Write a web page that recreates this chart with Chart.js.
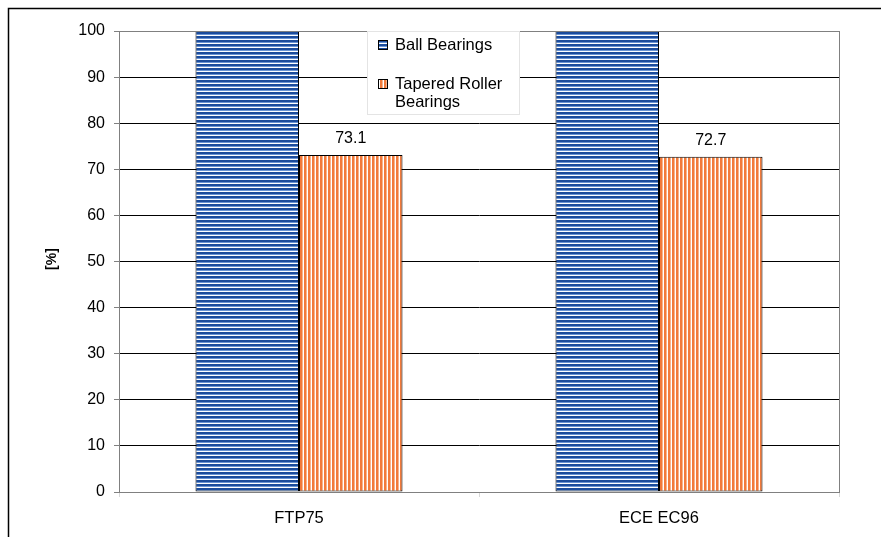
<!DOCTYPE html>
<html>
<head>
<meta charset="utf-8">
<script src="https://cdn.jsdelivr.net/npm/chart.js@4/dist/chart.umd.min.js"></script>
<style>
  html, body { margin: 0; padding: 0; background: #ffffff; }
  canvas { display: block; }
</style>
</head>
<body>
<canvas id="c" width="881" height="537"></canvas>
<script>
// Drive cycles compared
const categories = ['FTP75', 'ECE EC96'];
// Relative values per bearing type, in percent
const ballBearings = [100, 100];
const taperedRollerBearings = [73.1, 72.7];
const seriesNames = ['Ball Bearings', ['Tapered Roller', 'Bearings']];
const yTicks = [0, 10, 20, 30, 40, 50, 60, 70, 80, 90, 100];

const FONT = '"Liberation Sans", Arial, sans-serif';

// Horizontal blue stripes
function makeBluePattern() {
  const p = document.createElement('canvas');
  p.width = 4; p.height = 4;
  const g = p.getContext('2d');
  g.fillStyle = '#ffffff'; g.fillRect(0, 0, 4, 4);
  g.fillStyle = '#1c4c9c'; g.fillRect(0, 0, 4, 2);
  g.fillStyle = '#6a94d4'; g.fillRect(0, 2, 4, 1);
  return g.createPattern(p, 'repeat');
}
// Vertical orange stripes
function makeOrangePattern() {
  const p = document.createElement('canvas');
  p.width = 4; p.height = 4;
  const g = p.getContext('2d');
  g.fillStyle = '#ffffff'; g.fillRect(0, 0, 4, 4);
  g.fillStyle = '#f27a3a'; g.fillRect(0, 0, 2, 4);
  g.fillStyle = '#f8b48c'; g.fillRect(2, 0, 1, 4);
  return g.createPattern(p, 'repeat');
}

const ctx = document.getElementById('c').getContext('2d');
const bluePattern = makeBluePattern();
const orangePattern = makeOrangePattern();

// Outer frame, plot border, value labels, legend and axis title
const decorations = {
  id: 'decorations',
  beforeDraw(chart) {
    const c = chart.ctx;
    c.save();
    c.fillStyle = '#ffffff';
    c.fillRect(0, 0, chart.width, chart.height);
    c.strokeStyle = '#000000';
    c.lineWidth = 1.5;
    c.beginPath();
    c.moveTo(chart.width + 2, 8.5);
    c.lineTo(8.5, 8.5);
    c.lineTo(8.5, chart.height + 2);
    c.stroke();
    c.restore();
  },
  afterDatasetsDraw(chart) {
    const c = chart.ctx;
    const a = chart.chartArea;
    c.save();
    // plot area border
    c.strokeStyle = '#808080';
    c.lineWidth = 1;
    c.strokeRect(Math.round(a.left) + 0.5, Math.round(a.top) + 0.5,
                 Math.round(a.right - a.left), Math.round(a.bottom - a.top));

    // value labels above the tapered roller bars
    const meta = chart.getDatasetMeta(1);
    c.fillStyle = '#000000';
    c.font = '16px ' + FONT;
    c.textAlign = 'center';
    c.textBaseline = 'middle';
    meta.data.forEach((bar, i) => {
      c.fillText(taperedRollerBearings[i].toFixed(1), bar.x, bar.y - 16);
    });

    // y-axis title
    c.save();
    c.translate(52, 259);
    c.rotate(-Math.PI / 2);
    c.font = 'bold 14px ' + FONT;
    c.fillText('[%]', 0, 0);
    c.restore();

    // legend box
    const lx = 367, ly = 31, lw = 152, lh = 83;
    c.fillStyle = '#ffffff';
    c.fillRect(lx, ly, lw, lh);
    c.strokeStyle = '#e4e4e4';
    c.strokeRect(lx + 0.5, ly + 0.5, lw, lh);

    const items = [
      { fill: bluePattern, lines: [seriesNames[0]], y: 45 },
      { fill: orangePattern, lines: seriesNames[1], y: 84 }
    ];
    c.font = '16.5px ' + FONT;
    c.textAlign = 'left';
    items.forEach(it => {
      c.fillStyle = it.fill;
      c.fillRect(378, it.y - 5, 10, 10);
      c.strokeStyle = '#000000';
      c.strokeRect(378.5, it.y - 4.5, 9, 9);
      c.fillStyle = '#000000';
      it.lines.forEach((t, k) => c.fillText(t, 395, it.y + k * 18));
    });
    c.restore();
  }
};

new Chart(ctx, {
  type: 'bar',
  data: {
    labels: categories,
    datasets: [
      {
        label: 'Ball Bearings',
        data: ballBearings,
        backgroundColor: bluePattern,
        borderColor: '#000000',
        borderWidth: 1,
        borderSkipped: false
      },
      {
        label: 'Tapered Roller Bearings',
        data: taperedRollerBearings,
        backgroundColor: orangePattern,
        borderColor: '#000000',
        borderWidth: 1,
        borderSkipped: false
      }
    ]
  },
  options: {
    responsive: false,
    animation: false,
    devicePixelRatio: 1,
    layout: { padding: { left: 0, top: 31, right: 42, bottom: 0 } },
    datasets: { bar: { categoryPercentage: 0.575, barPercentage: 1 } },
    plugins: {
      legend: { display: false },
      tooltip: { enabled: false }
    },
    scales: {
      x: {
        offset: true,
        grid: {
          offset: true,
          drawOnChartArea: false,
          drawTicks: true,
          tickLength: 5,
          tickColor: '#d8d8d8'
        },
        border: { color: '#808080' },
        ticks: { color: '#000000', font: { family: FONT, size: 16.5 }, padding: 12 },
        afterFit(scale) { scale.height = 45; }
      },
      y: {
        min: 0,
        max: 100,
        afterBuildTicks(scale) { scale.ticks = yTicks.map(v => ({ value: v })); },
        grid: {
          color: c => (c.tick && (c.tick.value === 0 || c.tick.value === 100)) ? '#808080' : '#000000',
          tickColor: '#808080',
          tickLength: 5,
          lineWidth: 1
        },
        border: { color: '#808080' },
        ticks: { color: '#000000', font: { family: FONT, size: 16 }, padding: 9 },
        afterFit(scale) { scale.width = 119; }
      }
    }
  },
  plugins: [decorations]
});
</script>
</body>
</html>
